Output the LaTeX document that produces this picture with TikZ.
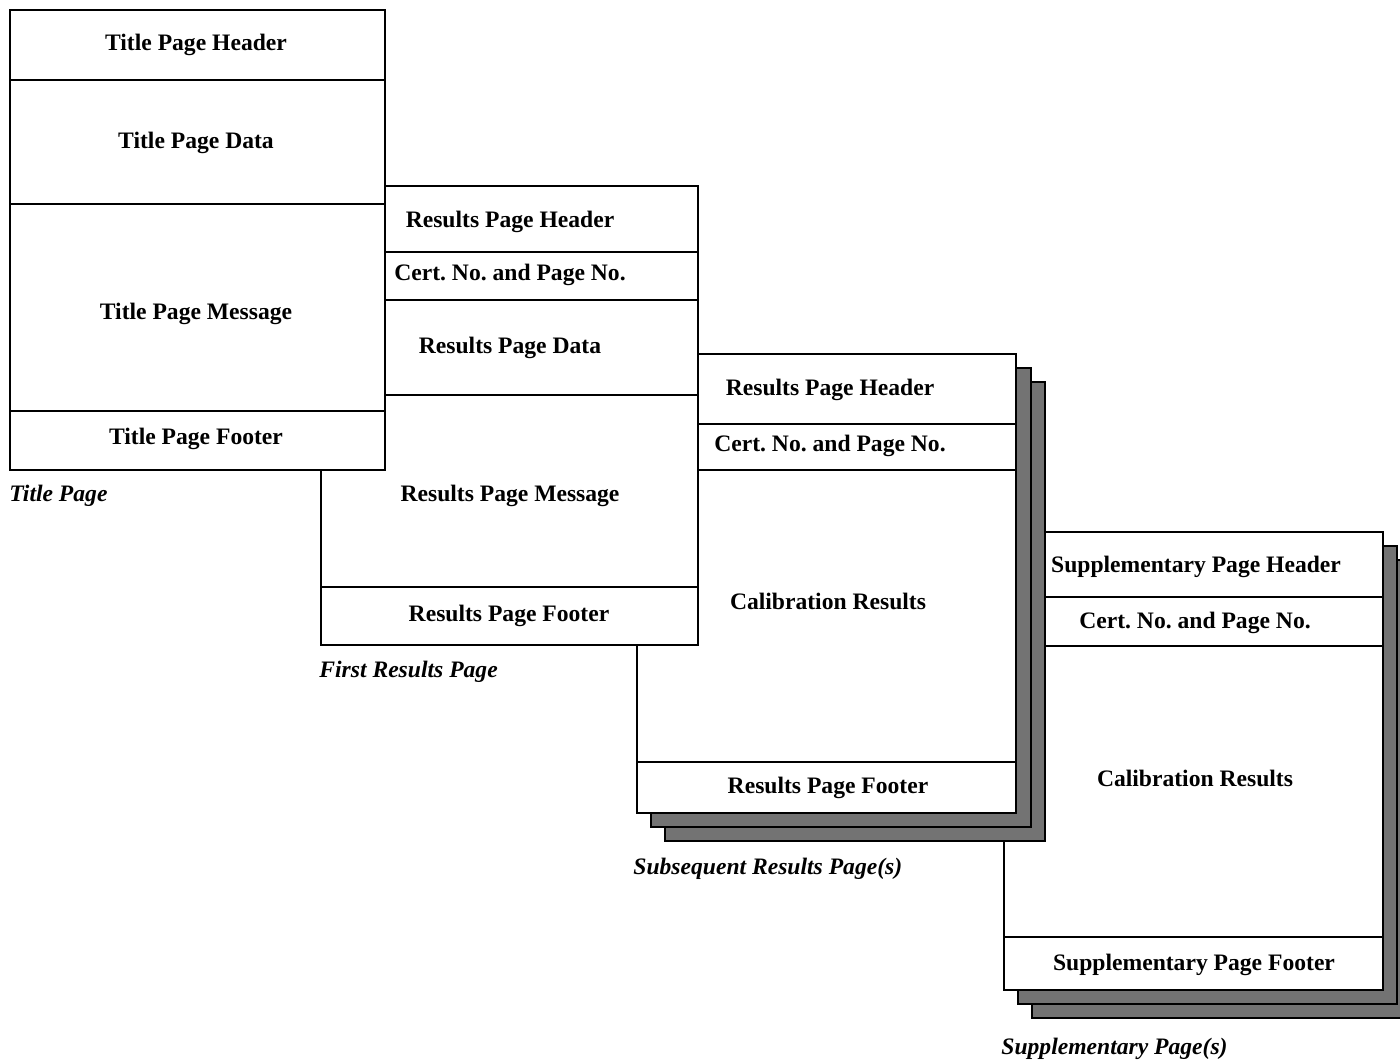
\documentclass[tikz,border=0pt]{standalone}
\usepackage{fontspec}
\setmainfont{Liberation Serif}
\usetikzlibrary{positioning}
\frenchspacing

\begin{document}
\begin{tikzpicture}[x=0.5pt, y=-0.5pt,
  sheet/.style={draw=black, line width=1pt, fill=white},
  backsheet/.style={draw=black, line width=1pt, fill=black!55},
  rule/.style={draw=black, line width=0.7pt},
  part/.style={font=\bfseries\fontsize{11.8}{14}\selectfont, inner sep=0pt,
    yshift=-1.5pt},
  pagename/.style={font=\bfseries\itshape\fontsize{11.8}{14}\selectfont,
    inner sep=0pt, anchor=west, yshift=-1.5pt}]

  \clip (0,0) rectangle (1400,1060);

  % supplementary page(s), lowest in the pile
  \draw[backsheet] (1032,560) rectangle (1411,1018);
  \draw[backsheet] (1018,546) rectangle (1397,1004);
  \draw[sheet] (1004,532) rectangle (1383,990);
  \foreach \y in {597,646,937}
    \draw[rule] (1004,\y) -- (1383,\y);
  \node[part] (supphead) at (1196,564) {Supplementary Page Header};
  \node[part] (suppcert) at (1195,620) {Cert. No. and Page No.};
  \node[part] (suppcal) at (1195,775) {Calibration Results};
  \node[part] (suppfoot) at (1194,962) {Supplementary Page Footer};
  \node[pagename] (suppname) at (1001,1046) {Supplementary Page(s)};

  % subsequent results page(s)
  \draw[backsheet] (665,382) rectangle (1045,841);
  \draw[backsheet] (651,368) rectangle (1031,827);
  \draw[sheet] (637,354) rectangle (1016,813);
  \foreach \y in {424,470,762}
    \draw[rule] (637,\y) -- (1016,\y);
  \node[part] (subhead) at (830,387) {Results Page Header};
  \node[part] (subcert) at (830,443) {Cert. No. and Page No.};
  \node[part] (subcal) at (828,598) {Calibration Results};
  \node[part] (subfoot) at (828,785) {Results Page Footer};
  \node[pagename] (subname) at (633,866) {Subsequent Results Page(s)};

  % first results page
  \draw[sheet] (321,186) rectangle (698,645);
  \foreach \y in {252,300,395,587}
    \draw[rule] (321,\y) -- (698,\y);
  \node[part] (reshead) at (510,219) {Results Page Header};
  \node[part] (rescert) at (510,272) {Cert. No. and Page No.};
  \node[part] (resdata) at (510,345) {Results Page Data};
  \node[part] (resmsg) at (510,493) {Results Page Message};
  \node[part] (resfoot) at (509,613) {Results Page Footer};
  \node[pagename] (resname) at (319,669) {First Results Page};

  % title page, on top
  \draw[sheet] (10,10) rectangle (385,470);
  \foreach \y in {80,204,411}
    \draw[rule] (10,\y) -- (385,\y);
  \node[part] (titlehead) at (196,42) {Title Page Header};
  \node[part] (titledata) at (196,140) {Title Page Data};
  \node[part] (titlemsg) at (196,311) {Title Page Message};
  \node[part] (titlefoot) at (196,436) {Title Page Footer};
  \node[pagename] (titlename) at (9,493) {Title Page};

\end{tikzpicture}
\end{document}
